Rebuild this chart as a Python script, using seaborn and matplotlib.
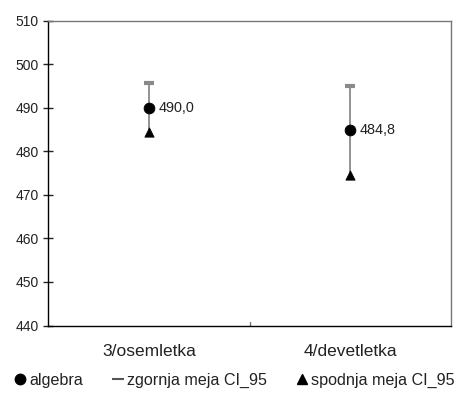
import pandas as pd
import matplotlib.pyplot as plt
import seaborn as sns
from matplotlib.lines import Line2D

categories = ['3/osemletka', '4/devetletka']
algebra = [490.0, 484.8]
upper_ci = [495.6, 495.0]
lower_ci = [484.4, 474.6]
value_labels = ['490,0', '484,8']

data = pd.DataFrame({'kategorija': categories, 'algebra': algebra,
                     'zgornja': upper_ci, 'spodnja': lower_ci})

sns.set_style('white')
plt.rcParams['font.family'] = ['Liberation Sans', 'DejaVu Sans']

fig, ax = plt.subplots(figsize=(4.58, 3.96), dpi=100)
fig.subplots_adjust(left=0.105, right=0.985, top=0.948, bottom=0.178)

# vertical CI lines
ax.vlines(data['kategorija'], data['spodnja'], data['zgornja'], color='#8a8a8a', lw=1.3, zorder=1)

sns.scatterplot(data=data, x='kategorija', y='zgornja', marker='_', s=45, color='#8a8a8a',
                linewidth=3, ax=ax, legend=False, zorder=2)
sns.scatterplot(data=data, x='kategorija', y='spodnja', marker='^', s=45, color='black',
                edgecolor='black', ax=ax, legend=False, zorder=3)
sns.scatterplot(data=data, x='kategorija', y='algebra', marker='o', s=60, color='black',
                edgecolor='black', ax=ax, legend=False, zorder=4)

for i, row in data.iterrows():
    ax.annotate(value_labels[i], (i, row['algebra']), xytext=(7, 0), textcoords='offset points',
                va='center', ha='left', fontsize=10.4, color='#222222')

ax.set_xlim(-0.5, 1.5)
ax.set_ylim(440, 510)
ax.set_yticks(range(440, 511, 10))
ax.set_xlabel('')
ax.set_ylabel('')
for s in ax.spines.values():
    s.set_color('#777777')
    s.set_linewidth(1.0)
ax.spines['left'].set_color('black')
ax.spines['bottom'].set_color('black')
ax.tick_params(axis='y', which='both', left=True, direction='inout', length=7, width=1,
               labelsize=10, pad=3, labelcolor='#222222')
ax.tick_params(axis='x', bottom=False, labelsize=12.5, pad=10, labelcolor='#222222')
ax.axvline(0.5, ymin=0, ymax=0.012, color='#777777', lw=1)

handles = [
    Line2D([], [], marker='o', ls='', color='black', markersize=7.5),
    Line2D([], [], marker='_', ls='', color='#555555', markersize=8, markeredgewidth=1.5),
    Line2D([], [], marker='^', ls='', color='black', markersize=6.5),
]
labels = ['algebra', 'zgornja meja CI_95', 'spodnja meja CI_95']
fig.legend(handles, labels, loc='center', bbox_to_anchor=(0.51, 0.04), ncol=3,
           frameon=False, fontsize=11.6, handletextpad=0.15, columnspacing=1.7,
           handlelength=0.9, borderaxespad=0, borderpad=0, labelcolor='#222222')

fig.savefig('out.png', dpi=100)
